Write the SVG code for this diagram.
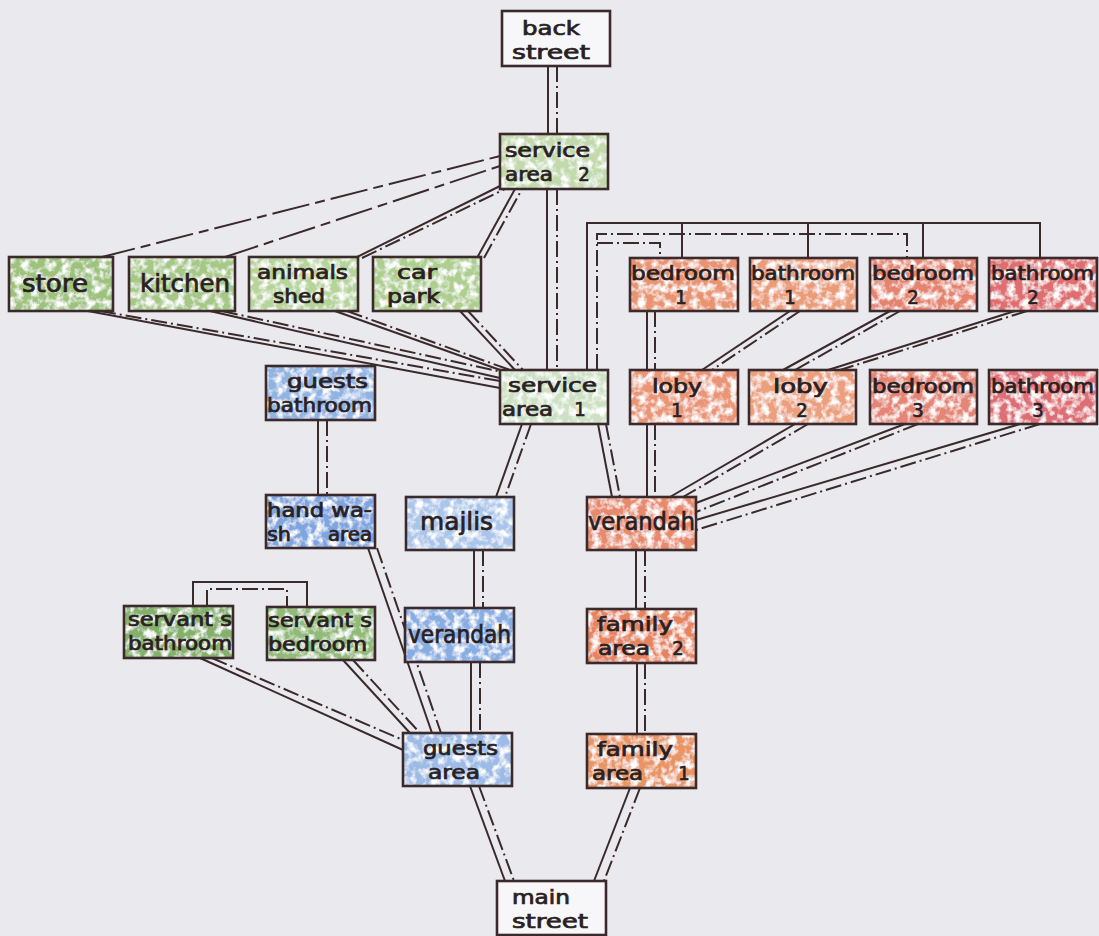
<svg xmlns="http://www.w3.org/2000/svg" width="1099" height="936" viewBox="0 0 1099 936">
<defs>
<filter id="tex" x="0" y="0" width="1" height="1">
<feTurbulence type="fractalNoise" baseFrequency="0.13" numOctaves="3" seed="7" result="n"/>
<feColorMatrix in="n" type="matrix" values="0 0 0 0 1  0 0 0 0 1  0 0 0 0 1  0 0 0 -3.0 1.75" result="w"/>
<feComposite in="w" in2="SourceGraphic" operator="atop"/>
</filter>
<style>
.f{filter:url(#tex);stroke:none}
.b{fill:none;stroke:#3a2a2c;stroke-width:2.6}
.w{fill:#f7f6f8;stroke:#3a2a2c;stroke-width:2.6}
text{font-family:"DejaVu Sans Condensed","DejaVu Sans",sans-serif;font-size:20px;fill:#2a1f23;stroke:#2a1f23;stroke-width:0.7}
.m{text-anchor:middle}
.big{font-size:25px}
.s{fill:none;stroke:#3a2a2c;stroke-width:2}
.d{fill:none;stroke:#3a2a2c;stroke-width:2;stroke-dasharray:16 4 2 4}
.ld{fill:none;stroke:#3a2a2c;stroke-width:2;stroke-dasharray:38 6 10 6}
</style>
</defs>
<rect width="1099" height="936" fill="#eae9ed"/>

<g id="connectors">
<line class="s" x1="548" y1="66" x2="548" y2="134"/>
<line class="d" x1="557" y1="66" x2="557" y2="134"/>
<line class="s" x1="547" y1="189" x2="547" y2="370"/>
<line class="d" x1="557" y1="189" x2="557" y2="370"/>
<line class="ld" x1="98" y1="258" x2="500" y2="156"/>
<line class="ld" x1="222" y1="258" x2="500" y2="166"/>
<line class="s" x1="355" y1="258" x2="500" y2="186"/>
<line class="d" x1="362" y1="258" x2="505" y2="189"/>
<line class="s" x1="477" y1="258" x2="515" y2="189"/>
<line class="d" x1="484" y1="258" x2="522" y2="189"/>
<line class="s" x1="88" y1="311" x2="500" y2="388"/>
<line class="d" x1="100" y1="311" x2="500" y2="381"/>
<line class="s" x1="210" y1="311" x2="500" y2="378"/>
<line class="d" x1="222" y1="311" x2="502" y2="372"/>
<line class="s" x1="335" y1="311" x2="503" y2="371"/>
<line class="d" x1="347" y1="311" x2="510" y2="370"/>
<line class="s" x1="460" y1="311" x2="515" y2="370"/>
<line class="d" x1="468" y1="311" x2="523" y2="370"/>
<path class="s" d="M587,370 V223 H1040 V258 M682,223 V258 M808,223 V258 M923,223 V258"/>
<path class="d" d="M597,370 V234 H907 V258"/>
<path class="d" d="M597,243 H660 V258"/>
<line class="s" x1="647" y1="311" x2="647" y2="370"/>
<line class="d" x1="655" y1="311" x2="655" y2="370"/>
<line class="s" x1="647" y1="424" x2="647" y2="497"/>
<line class="d" x1="655" y1="424" x2="655" y2="497"/>
<line class="s" x1="790" y1="311" x2="702" y2="370"/>
<line class="d" x1="800" y1="311" x2="712" y2="370"/>
<line class="s" x1="890" y1="311" x2="783" y2="370"/>
<line class="d" x1="900" y1="311" x2="795" y2="370"/>
<line class="s" x1="1015" y1="311" x2="828" y2="370"/>
<line class="d" x1="1027" y1="311" x2="840" y2="370"/>
<line class="s" x1="795" y1="424" x2="670" y2="497"/>
<line class="d" x1="808" y1="424" x2="683" y2="497"/>
<line class="s" x1="905" y1="424" x2="696" y2="503"/>
<line class="d" x1="918" y1="424" x2="696" y2="512"/>
<line class="s" x1="1020" y1="424" x2="696" y2="520"/>
<line class="d" x1="1040" y1="424" x2="696" y2="530"/>
<line class="s" x1="598" y1="424" x2="612" y2="497"/>
<line class="d" x1="606" y1="424" x2="620" y2="497"/>
<line class="s" x1="522" y1="424" x2="496" y2="497"/>
<line class="d" x1="531" y1="424" x2="505" y2="497"/>
<line class="s" x1="318" y1="420" x2="318" y2="495"/>
<line class="d" x1="327" y1="420" x2="327" y2="495"/>
<line class="s" x1="368" y1="548" x2="432" y2="733"/>
<line class="d" x1="377" y1="548" x2="441" y2="733"/>
<line class="s" x1="474" y1="550" x2="474" y2="608"/>
<line class="d" x1="483" y1="550" x2="483" y2="608"/>
<line class="s" x1="471" y1="662" x2="471" y2="733"/>
<line class="d" x1="480" y1="662" x2="480" y2="733"/>
<line class="s" x1="200" y1="658" x2="403" y2="750"/>
<line class="d" x1="212" y1="658" x2="403" y2="740"/>
<line class="s" x1="343" y1="660" x2="410" y2="733"/>
<line class="d" x1="353" y1="660" x2="420" y2="733"/>
<path class="s" d="M193,606 V582 H307 V607"/>
<path class="d" d="M207,606 V589 H287 V607"/>
<line class="s" x1="636" y1="550" x2="636" y2="609"/>
<line class="d" x1="645" y1="550" x2="645" y2="609"/>
<line class="s" x1="637" y1="663" x2="637" y2="734"/>
<line class="d" x1="645" y1="663" x2="645" y2="734"/>
<line class="s" x1="470" y1="786" x2="505" y2="881"/>
<line class="d" x1="479" y1="786" x2="514" y2="881"/>
<line class="s" x1="630" y1="788" x2="594" y2="881"/>
<line class="d" x1="640" y1="788" x2="604" y2="881"/>
</g>

<g id="n-back-street"><rect class="w" x="502" y="11" width="108" height="55"/>
<text x="522" y="35" textLength="58" lengthAdjust="spacingAndGlyphs">back</text>
<text x="512" y="59" textLength="78" lengthAdjust="spacingAndGlyphs">street</text></g>

<g id="n-service-area-2"><rect class="f" x="500" y="134" width="108" height="55" fill="#c2d9ac"/><rect class="b" x="500" y="134" width="108" height="55"/>
<text x="505" y="157" textLength="85" lengthAdjust="spacingAndGlyphs">service</text>
<text x="505" y="181" textLength="48" lengthAdjust="spacingAndGlyphs">area</text><text class="m" x="584" y="181">2</text></g>

<g id="n-store"><rect class="f" x="9" y="257" width="104" height="54" fill="#9dc27c"/><rect class="b" x="9" y="257" width="104" height="54"/>
<text class="big" x="22" y="292" textLength="66" lengthAdjust="spacingAndGlyphs">store</text></g>

<g id="n-kitchen"><rect class="f" x="129" y="257" width="106" height="54" fill="#a6c886"/><rect class="b" x="129" y="257" width="106" height="54"/>
<text class="big" x="140" y="292" textLength="90" lengthAdjust="spacingAndGlyphs">kitchen</text></g>

<g id="n-animals-shed"><rect class="f" x="249" y="257" width="109" height="54" fill="#b6d39a"/><rect class="b" x="249" y="257" width="109" height="54"/>
<text x="257" y="279" textLength="91" lengthAdjust="spacingAndGlyphs">animals</text>
<text x="273" y="303" textLength="52" lengthAdjust="spacingAndGlyphs">shed</text></g>

<g id="n-car-park"><rect class="f" x="373" y="257" width="108" height="54" fill="#adce8e"/><rect class="b" x="373" y="257" width="108" height="54"/>
<text x="397" y="279" textLength="40" lengthAdjust="spacingAndGlyphs">car</text>
<text x="387" y="303" textLength="53" lengthAdjust="spacingAndGlyphs">park</text></g>

<g id="n-bedroom-1"><rect class="f" x="630" y="258" width="108" height="53" fill="#e89470"/><rect class="b" x="630" y="258" width="108" height="53"/>
<text x="631" y="280" textLength="104" lengthAdjust="spacingAndGlyphs">bedroom</text><text class="m" x="681" y="304">1</text></g>

<g id="n-bathroom-1"><rect class="f" x="750" y="258" width="107" height="53" fill="#ea9c78"/><rect class="b" x="750" y="258" width="107" height="53"/>
<text x="751" y="280" textLength="104" lengthAdjust="spacingAndGlyphs">bathroom</text><text class="m" x="790" y="304">1</text></g>

<g id="n-bedroom-2"><rect class="f" x="870" y="258" width="107" height="53" fill="#e5846e"/><rect class="b" x="870" y="258" width="107" height="53"/>
<text x="872" y="280" textLength="102" lengthAdjust="spacingAndGlyphs">bedroom</text><text class="m" x="913" y="304">2</text></g>

<g id="n-bathroom-2"><rect class="f" x="989" y="258" width="108" height="53" fill="#de6e6f"/><rect class="b" x="989" y="258" width="108" height="53"/>
<text x="991" y="280" textLength="103" lengthAdjust="spacingAndGlyphs">bathroom</text><text class="m" x="1033" y="304">2</text></g>

<g id="n-guests-bathroom"><rect class="f" x="266" y="366" width="109" height="54" fill="#90b3e2"/><rect class="b" x="266" y="366" width="109" height="54"/>
<text x="287" y="388" textLength="81" lengthAdjust="spacingAndGlyphs">guests</text>
<text x="267" y="412" textLength="105" lengthAdjust="spacingAndGlyphs">bathroom</text></g>

<g id="n-service-area-1"><rect class="f" x="500" y="370" width="108" height="54" fill="#cde0c4"/><rect class="b" x="500" y="370" width="108" height="54"/>
<text x="508" y="392" textLength="89" lengthAdjust="spacingAndGlyphs">service</text>
<text x="502" y="416" textLength="51" lengthAdjust="spacingAndGlyphs">area</text><text class="m" x="580" y="416">1</text></g>

<g id="n-loby-1"><rect class="f" x="630" y="370" width="108" height="54" fill="#ea9574"/><rect class="b" x="630" y="370" width="108" height="54"/>
<text x="652" y="393" textLength="50" lengthAdjust="spacingAndGlyphs">loby</text><text class="m" x="677" y="417">1</text></g>

<g id="n-loby-2"><rect class="f" x="749" y="370" width="107" height="54" fill="#eb9f7c"/><rect class="b" x="749" y="370" width="107" height="54"/>
<text x="773" y="393" textLength="55" lengthAdjust="spacingAndGlyphs">loby</text><text class="m" x="802" y="417">2</text></g>

<g id="n-bedroom-3"><rect class="f" x="870" y="370" width="107" height="54" fill="#e48574"/><rect class="b" x="870" y="370" width="107" height="54"/>
<text x="872" y="393" textLength="102" lengthAdjust="spacingAndGlyphs">bedroom</text><text class="m" x="918" y="417">3</text></g>

<g id="n-bathroom-3"><rect class="f" x="989" y="370" width="108" height="54" fill="#de6e76"/><rect class="b" x="989" y="370" width="108" height="54"/>
<text x="991" y="393" textLength="103" lengthAdjust="spacingAndGlyphs">bathroom</text><text class="m" x="1038" y="417">3</text></g>

<g id="n-hand-wash-area"><rect class="f" x="266" y="495" width="109" height="53" fill="#7ea5de"/><rect class="b" x="266" y="495" width="109" height="53"/>
<text x="267" y="517" textLength="105" lengthAdjust="spacingAndGlyphs">hand wa-</text>
<text x="267" y="541" textLength="24" lengthAdjust="spacingAndGlyphs">sh</text><text x="328" y="541" textLength="44" lengthAdjust="spacingAndGlyphs">area</text></g>

<g id="n-majlis"><rect class="f" x="406" y="497" width="108" height="53" fill="#aac5ea"/><rect class="b" x="406" y="497" width="108" height="53"/>
<text class="big" x="420" y="530" textLength="73" lengthAdjust="spacingAndGlyphs">majlis</text></g>

<g id="n-verandah-family"><rect class="f" x="587" y="497" width="109" height="53" fill="#e78a6c"/><rect class="b" x="587" y="497" width="109" height="53"/>
<text class="big" x="588" y="530" textLength="107" lengthAdjust="spacingAndGlyphs">verandah</text></g>

<g id="n-servants-bathroom"><rect class="f" x="124" y="606" width="109" height="52" fill="#84b06b"/><rect class="b" x="124" y="606" width="109" height="52"/>
<text x="128" y="626" textLength="104" lengthAdjust="spacingAndGlyphs">servant s</text>
<text x="128" y="650" textLength="104" lengthAdjust="spacingAndGlyphs">bathroom</text></g>

<g id="n-servants-bedroom"><rect class="f" x="267" y="607" width="108" height="53" fill="#90ba76"/><rect class="b" x="267" y="607" width="108" height="53"/>
<text x="268" y="627" textLength="104" lengthAdjust="spacingAndGlyphs">servant s</text>
<text x="268" y="651" textLength="99" lengthAdjust="spacingAndGlyphs">bedroom</text></g>

<g id="n-verandah-guests"><rect class="f" x="405" y="608" width="109" height="54" fill="#87ade1"/><rect class="b" x="405" y="608" width="109" height="54"/>
<text class="big" x="408" y="643" textLength="103" lengthAdjust="spacingAndGlyphs">verandah</text></g>

<g id="n-family-area-2"><rect class="f" x="587" y="609" width="109" height="54" fill="#e6845f"/><rect class="b" x="587" y="609" width="109" height="54"/>
<text x="597" y="631" textLength="76" lengthAdjust="spacingAndGlyphs">family</text>
<text x="598" y="655" textLength="52" lengthAdjust="spacingAndGlyphs">area</text><text class="m" x="678" y="655">2</text></g>

<g id="n-guests-area"><rect class="f" x="403" y="733" width="109" height="53" fill="#9dbbe6"/><rect class="b" x="403" y="733" width="109" height="53"/>
<text x="423" y="755" textLength="75" lengthAdjust="spacingAndGlyphs">guests</text>
<text x="428" y="779" textLength="52" lengthAdjust="spacingAndGlyphs">area</text></g>

<g id="n-family-area-1"><rect class="f" x="587" y="734" width="109" height="54" fill="#e89564"/><rect class="b" x="587" y="734" width="109" height="54"/>
<text x="597" y="756" textLength="76" lengthAdjust="spacingAndGlyphs">family</text>
<text x="592" y="780" textLength="51" lengthAdjust="spacingAndGlyphs">area</text><text class="m" x="684" y="780">1</text></g>

<g id="n-main-street"><rect class="w" x="497" y="881" width="109" height="54"/>
<text x="512" y="904" textLength="58" lengthAdjust="spacingAndGlyphs">main</text>
<text x="512" y="928" textLength="76" lengthAdjust="spacingAndGlyphs">street</text></g>
</svg>
